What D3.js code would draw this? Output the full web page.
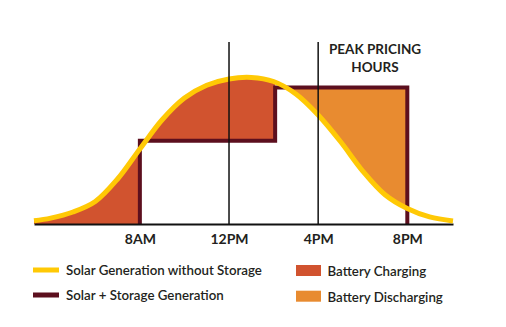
<!DOCTYPE html>
<html>
<head>
<meta charset="utf-8">
<script src="https://cdn.jsdelivr.net/npm/d3@7"></script>
<style>
  html, body { margin: 0; padding: 0; background: #fff; }
  svg { display: block; }
  text { font-family: Lato, "Open Sans", sans-serif; fill: #231f20; }
</style>
</head>
<body>
<svg id="chart" width="506" height="327"></svg>
<script>
// ---- data ----
const hours = [3.25, 4, 5, 6, 7, 8, 9, 10, 11, 12, 13, 14, 15, 16, 17, 18, 19, 20, 21, 22.05];
const solarNoStorage = [0.21, 0.39, 0.8, 1.5, 3.0, 5.0, 6.95, 8.4, 9.25, 9.67, 9.77, 9.5, 8.67, 7.27, 5.5, 3.53, 1.95, 1.03, 0.47, 0.2];

// solar + storage: stepped output
const stepStarts = [8, 14.07];
const stepEnds = [14.07, 20];
const stepLevels = [5.55, 9.1];

const tickHours = [8, 12, 16, 20];
const tickLabels = ["8AM", "12PM", "4PM", "8PM"];
const markerHours = [12, 16];
const peakLabel = ["PEAK PRICING", "HOURS"];

const legendLines = ["Solar Generation without Storage", "Solar + Storage Generation"];
const legendAreas = ["Battery Charging", "Battery Discharging"];

// ---- setup ----
const colors = {
  solar: "#FFC905",
  storage: "#5C0F1E",
  charging: "#D1532F",
  discharging: "#E88B30",
  ink: "#231f20"
};

const svg = d3.select("#chart");
const x = d3.scaleLinear().domain([hours[0], hours[hours.length - 1]]).range([34, 453]);
const y = d3.scaleLinear().domain([0, 10]).range([224, 74]);

const solarPts = hours.map((h, i) => ({ h, v: solarNoStorage[i] }));
const curveType = d3.curveCatmullRom.alpha(0.5);

// step line points
const stepPts = [{ h: stepStarts[0], v: 0 }];
stepStarts.forEach((s, i) => {
  stepPts.push({ h: s, v: stepLevels[i] });
  stepPts.push({ h: stepEnds[i], v: stepLevels[i] });
});
stepPts.push({ h: stepEnds[stepEnds.length - 1], v: 0 });

const defs = svg.append("defs");

// clip: region above the storage line, up to end of charging step
const chargeClipPts = [{ h: hours[0], v: 0 }, { h: stepStarts[0], v: 0 },
  { h: stepStarts[0], v: stepLevels[0] }, { h: stepEnds[0], v: stepLevels[0] }];
defs.append("clipPath").attr("id", "clipCharge")
  .append("path")
  .attr("d", d3.area().x(d => x(d.h)).y0(0).y1(d => y(d.v))(chargeClipPts));

// clip: region above the solar curve
defs.append("clipPath").attr("id", "clipAboveSolar")
  .append("path")
  .attr("d", d3.area().curve(curveType).x(d => x(d.h)).y0(0).y1(d => y(d.v))(solarPts));

// charging fill
svg.append("path")
  .attr("clip-path", "url(#clipCharge)")
  .attr("fill", colors.charging)
  .attr("d", d3.area().curve(curveType).x(d => x(d.h)).y0(y(0)).y1(d => y(d.v))(solarPts));

// discharging fill
const dischargePts = [{ h: stepStarts[1], v: stepLevels[1] }, { h: stepEnds[1], v: stepLevels[1] }];
svg.append("path")
  .attr("clip-path", "url(#clipAboveSolar)")
  .attr("fill", colors.discharging)
  .attr("d", d3.area().x(d => x(d.h)).y0(y(0)).y1(d => y(d.v))(dischargePts));

// storage step line
svg.append("path")
  .attr("fill", "none")
  .attr("stroke", colors.storage)
  .attr("stroke-width", 4)
  .attr("stroke-linejoin", "miter")
  .attr("d", d3.line().x(d => x(d.h)).y(d => y(d.v))(stepPts));

// axis
const axis = svg.append("g")
  .attr("transform", `translate(0,${y(0)})`)
  .call(d3.axisBottom(x).tickValues(tickHours)
    .tickFormat((d, i) => tickLabels[i]).tickSize(0).tickSizeOuter(0).tickPadding(10));
axis.select(".domain").attr("stroke", "#111").attr("stroke-width", 2);
axis.selectAll("text")
  .attr("fill", colors.ink)
  .style("font-family", "Lato, sans-serif")
  .style("font-size", "14px")
  .style("font-weight", 700);

// solar curve
svg.append("path")
  .attr("fill", "none")
  .attr("stroke", colors.solar)
  .attr("stroke-width", 5)
  .attr("d", d3.line().curve(curveType).x(d => x(d.h)).y(d => y(d.v))(solarPts));

// vertical marker lines
svg.selectAll(".marker").data(markerHours).enter().append("line")
  .attr("x1", d => x(d)).attr("x2", d => x(d))
  .attr("y1", 42).attr("y2", y(0))
  .attr("stroke", "#111").attr("stroke-width", 1.5);

// peak pricing label
svg.append("text")
  .attr("x", 375).attr("y", 54)
  .attr("text-anchor", "middle")
  .style("font-size", "13.5px").style("font-weight", 700)
  .selectAll("tspan").data(peakLabel).enter().append("tspan")
  .attr("x", 375).attr("dy", (d, i) => i === 0 ? 0 : 18.3)
  .text(d => d);

// legend
const legLineY = [270, 295];
const legLineColors = [colors.solar, colors.storage];
legendLines.forEach((t, i) => {
  svg.append("rect").attr("x", 33).attr("y", legLineY[i] - 2.5)
    .attr("width", 26).attr("height", 5).attr("fill", legLineColors[i]);
  svg.append("text").attr("x", 66).attr("y", legLineY[i] + 5.3)
    .style("font-size", "13.3px").style("font-weight", 600).text(t);
});
const legAreaY = [270.5, 296.2];
const legAreaColors = [colors.charging, colors.discharging];
legendAreas.forEach((t, i) => {
  svg.append("rect").attr("x", 296).attr("y", legAreaY[i] - 5.5)
    .attr("width", 25).attr("height", 11).attr("fill", legAreaColors[i]);
  svg.append("text").attr("x", 327.5).attr("y", legAreaY[i] + 5.5)
    .style("font-size", "13.3px").style("font-weight", 600).text(t);
});
</script>
</body>
</html>
